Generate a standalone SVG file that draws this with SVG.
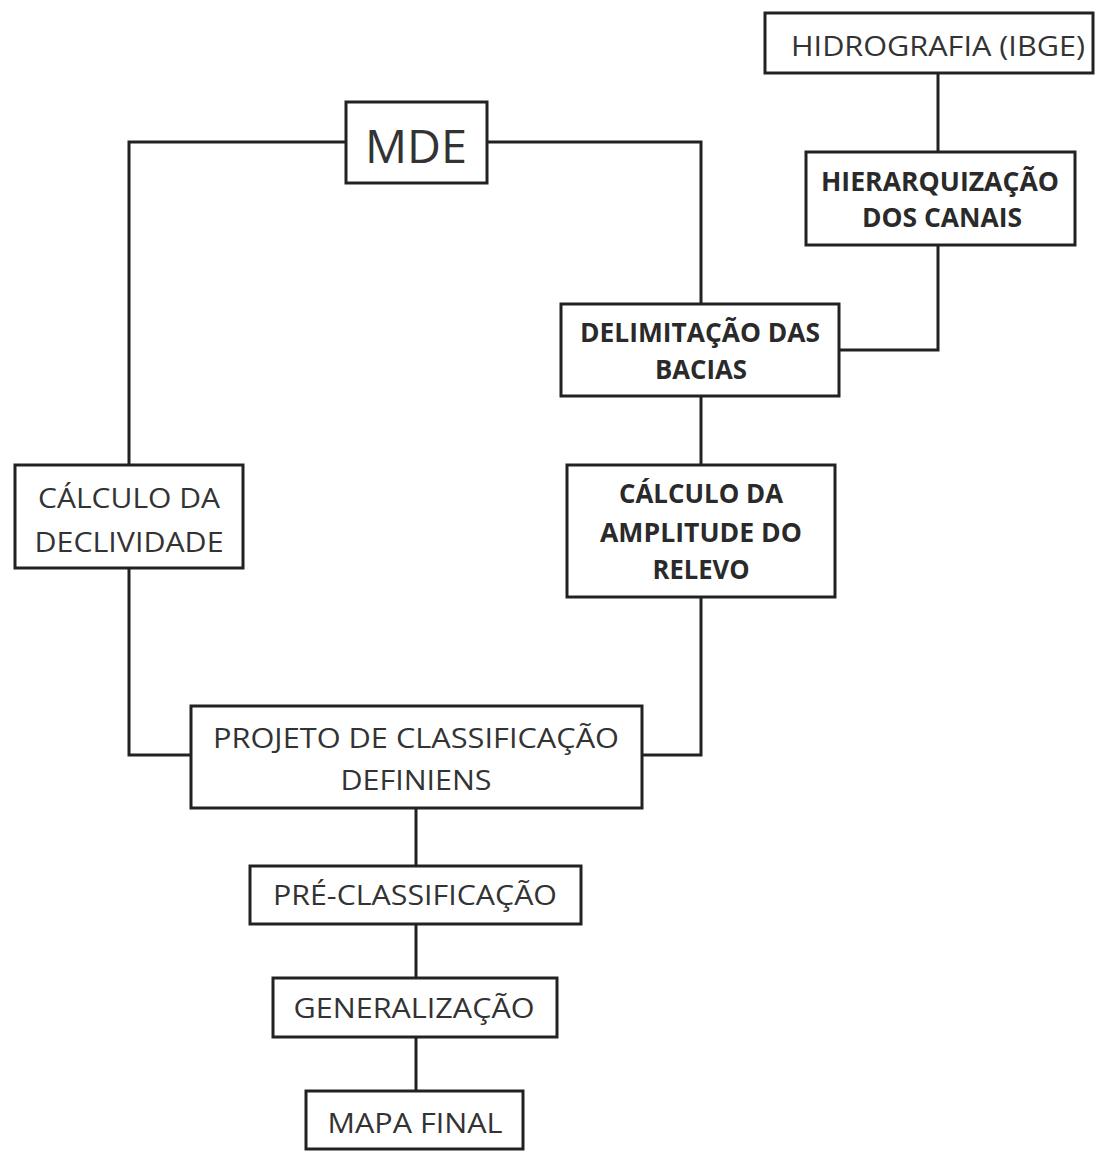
<svg xmlns="http://www.w3.org/2000/svg" width="1111" height="1151" viewBox="0 0 1111 1151">
<style>
rect.b{fill:#fff;stroke:#222;stroke-width:3}
.c path{fill:none;stroke:#222;stroke-width:3}
text{font-family:"Open Sans","Liberation Sans",sans-serif;fill:#333;text-anchor:middle;dominant-baseline:central}
.n{font-size:28px}
.k{font-size:26px;font-weight:bold;fill:#2a2a2a}
</style>
<rect width="1111" height="1151" fill="#fff"/>
<g class="c" id="connectors">
<path d="M346 142H129V465"/>
<path d="M487 142H701V304"/>
<path d="M938 73V152"/>
<path d="M938 245V350H839"/>
<path d="M701 396V465"/>
<path d="M129 568V755H191"/>
<path d="M701 597V755H642"/>
<path d="M416 808V866"/>
<path d="M416 924V978"/>
<path d="M416 1037V1091"/>
</g>
<g id="hidrografia"><rect class="b" x="765" y="13" width="328" height="60"/><text class="n" x="938" y="45" textLength="294" lengthAdjust="spacingAndGlyphs">HIDROGRAFIA (IBGE)</text></g>
<g id="mde"><rect class="b" x="346" y="102" width="141" height="81"/><text x="416" y="145" style="font-size:46px" textLength="102" lengthAdjust="spacingAndGlyphs">MDE</text></g>
<g id="hierarquizacao"><rect class="b" x="806" y="152" width="269" height="93"/><text class="k" x="940" y="181" textLength="238" lengthAdjust="spacingAndGlyphs">HIERARQUIZAÇÃO</text><text class="k" x="942" y="217" textLength="160" lengthAdjust="spacingAndGlyphs">DOS CANAIS</text></g>
<g id="delimitacao"><rect class="b" x="561" y="304" width="278" height="92"/><text class="k" x="700" y="332" textLength="240" lengthAdjust="spacingAndGlyphs">DELIMITAÇÃO DAS</text><text class="k" x="701" y="369" textLength="92" lengthAdjust="spacingAndGlyphs">BACIAS</text></g>
<g id="declividade"><rect class="b" x="15" y="465" width="228" height="103"/><text class="n" x="129" y="497" textLength="182" lengthAdjust="spacingAndGlyphs">CÁLCULO DA</text><text class="n" x="129" y="541" textLength="189" lengthAdjust="spacingAndGlyphs">DECLIVIDADE</text></g>
<g id="amplitude"><rect class="b" x="567" y="465" width="268" height="132"/><text class="k" x="701" y="493" textLength="164" lengthAdjust="spacingAndGlyphs">CÁLCULO DA</text><text class="k" x="701" y="532" textLength="202" lengthAdjust="spacingAndGlyphs">AMPLITUDE DO</text><text class="k" x="701" y="569" textLength="97" lengthAdjust="spacingAndGlyphs">RELEVO</text></g>
<g id="projeto"><rect class="b" x="191" y="706" width="451" height="102"/><text class="n" x="416" y="737" textLength="406" lengthAdjust="spacingAndGlyphs">PROJETO DE CLASSIFICAÇÃO</text><text class="n" x="416" y="779" textLength="151" lengthAdjust="spacingAndGlyphs">DEFINIENS</text></g>
<g id="preclassificacao"><rect class="b" x="250" y="866" width="331" height="58"/><text class="n" x="415" y="894" textLength="284" lengthAdjust="spacingAndGlyphs">PRÉ-CLASSIFICAÇÃO</text></g>
<g id="generalizacao"><rect class="b" x="273" y="978" width="284" height="59"/><text class="n" x="414" y="1007" textLength="241" lengthAdjust="spacingAndGlyphs">GENERALIZAÇÃO</text></g>
<g id="mapafinal"><rect class="b" x="306" y="1091" width="217" height="58"/><text class="n" x="415" y="1122" textLength="175" lengthAdjust="spacingAndGlyphs">MAPA FINAL</text></g>
</svg>
